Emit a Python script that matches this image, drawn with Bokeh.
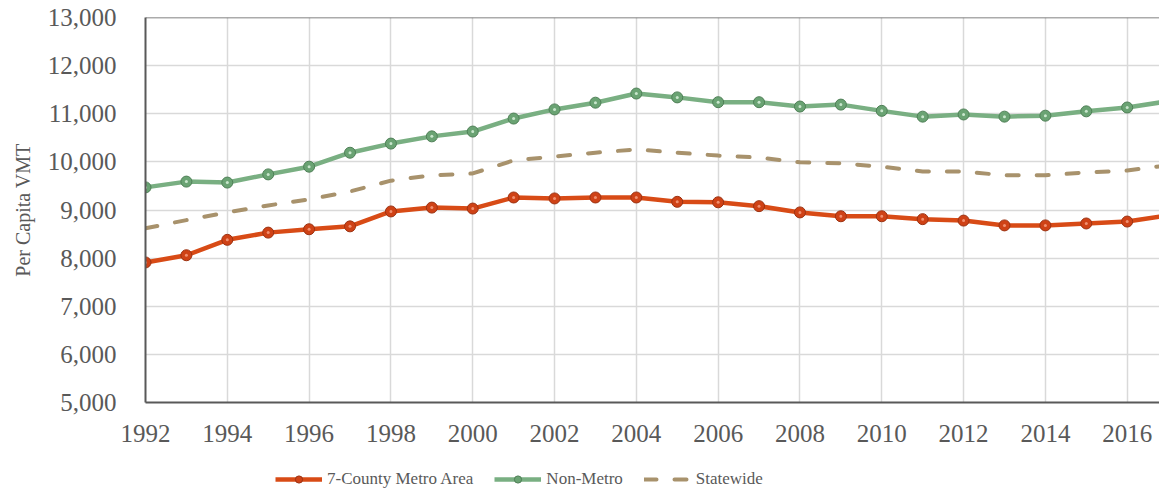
from bokeh.plotting import figure
from bokeh.layouts import column
from bokeh.models import ColumnDataSource, Legend, LegendItem, NumeralTickFormatter, FixedTicker, Span
from bokeh.embed import file_html
from bokeh.resources import INLINE

years = list(range(1992, 2018))
metro = [7910, 8060, 8380, 8530, 8600, 8660, 8970, 9050, 9030, 9260, 9240, 9260, 9260, 9170, 9160,
         9080, 8950, 8870, 8870, 8810, 8780, 8680, 8680, 8720, 8760, 8890]
nonmetro = [9470, 9590, 9570, 9740, 9900, 10190, 10380, 10530, 10630, 10900, 11090, 11230, 11420, 11340, 11240,
            11240, 11150, 11190, 11060, 10940, 10985, 10940, 10960, 11050, 11130, 11260]
statewide = [8620, 8790, 8950, 9095, 9220, 9385, 9610, 9720, 9760, 10030, 10110, 10190, 10260, 10190, 10130,
             10090, 9990, 9970, 9900, 9800, 9800, 9720, 9720, 9780, 9820, 9930]
series_names = ["7-County Metro Area", "Non-Metro", "Statewide"]
x_ticks = list(range(1992, 2017, 2))
y_ticks = list(range(5000, 13001, 1000))

src = ColumnDataSource(dict(x=years, metro=metro, nonmetro=nonmetro, statewide=statewide))

FONT = "Liberation Serif"
TXT = "#595959"
RED, RED_M, RED_E = "#D84B16", "#CF4216", "#9B3212"
GRN, GRN_M, GRN_E = "#79AF82", "#6AA373", "#4E7F56"
TAN = "#A8926C"

p = figure(width=1159, height=452, x_range=(1992, 2016.79), y_range=(5000, 13000),
           output_backend="svg", toolbar_location=None,
           min_border_left=145, min_border_right=0, min_border_top=17, min_border_bottom=50)
p.outline_line_color = None

p.xaxis.ticker = FixedTicker(ticks=x_ticks)
p.yaxis.ticker = FixedTicker(ticks=y_ticks)
p.yaxis.formatter = NumeralTickFormatter(format="0,0")
for ax in (p.xaxis, p.yaxis):
    ax.axis_line_color = TXT
    ax.axis_line_width = 2
    ax.major_tick_line_color = None
    ax.minor_tick_line_color = None
    ax.major_label_text_font = FONT
    ax.major_label_text_font_size = "25px"
    ax.major_label_text_color = TXT
p.yaxis.major_label_standoff = 23
p.xaxis.major_label_standoff = 16
p.yaxis.axis_label = "Per Capita VMT"
p.yaxis.axis_label_text_font = FONT
p.yaxis.axis_label_text_font_size = "20px"
p.yaxis.axis_label_text_font_style = "normal"
p.yaxis.axis_label_text_color = TXT
p.yaxis.axis_label_standoff = 11

p.xgrid.grid_line_color = "#D9D9D9"
p.ygrid.grid_line_color = "#D9D9D9"
p.xgrid.grid_line_width = 1.5
p.ygrid.grid_line_width = 1.5

p.add_layout(Span(location=13000, dimension="width", line_color=TXT, line_width=1.5))


def draw_series(fig):
    s = fig.line("x", "statewide", source=src, line_color=TAN, line_width=4, line_dash="12 18", line_cap="round")
    m1 = fig.line("x", "metro", source=src, line_color=RED, line_width=4.5)
    m2 = fig.scatter("x", "metro", source=src, size=11, fill_color=RED_M, line_color=RED_E, line_width=1)
    fig.scatter("x", "metro", source=src, size=3, fill_color="#F09070", line_color=None)
    n1 = fig.line("x", "nonmetro", source=src, line_color=GRN, line_width=4.5)
    n2 = fig.scatter("x", "nonmetro", source=src, size=11, fill_color=GRN_M, line_color=GRN_E, line_width=1)
    fig.scatter("x", "nonmetro", source=src, size=3, fill_color="#C8E6CC", line_color=None)
    return s, m1, m2, n1, n2


draw_series(p)

# legend strip (same series, drawn out of its view; only the legend shows)
lg = figure(width=1159, height=42, x_range=(0, 1), y_range=(0, 1), output_backend="svg",
            toolbar_location=None, min_border=0, x_axis_type=None, y_axis_type=None)
lg.outline_line_color = None
lg.grid.visible = False
s, m1, m2, n1, n2 = draw_series(lg)

legend = Legend(items=[
    LegendItem(label=series_names[0], renderers=[m1, m2]),
    LegendItem(label=series_names[1], renderers=[n1, n2]),
    LegendItem(label=series_names[2], renderers=[s]),
], orientation="horizontal", location=(130, 5))
legend.label_text_font = FONT
legend.label_text_font_size = "17px"
legend.label_text_color = TXT
legend.glyph_width = 47
legend.glyph_height = 18
legend.label_height = 18
legend.label_standoff = 5
legend.spacing = 21
legend.padding = 0
legend.margin = 0
legend.border_line_color = None
legend.background_fill_alpha = 0
lg.add_layout(legend, "center")

layout = column(p, lg, spacing=0)
open("out.html", "w").write(file_html(layout, INLINE))
